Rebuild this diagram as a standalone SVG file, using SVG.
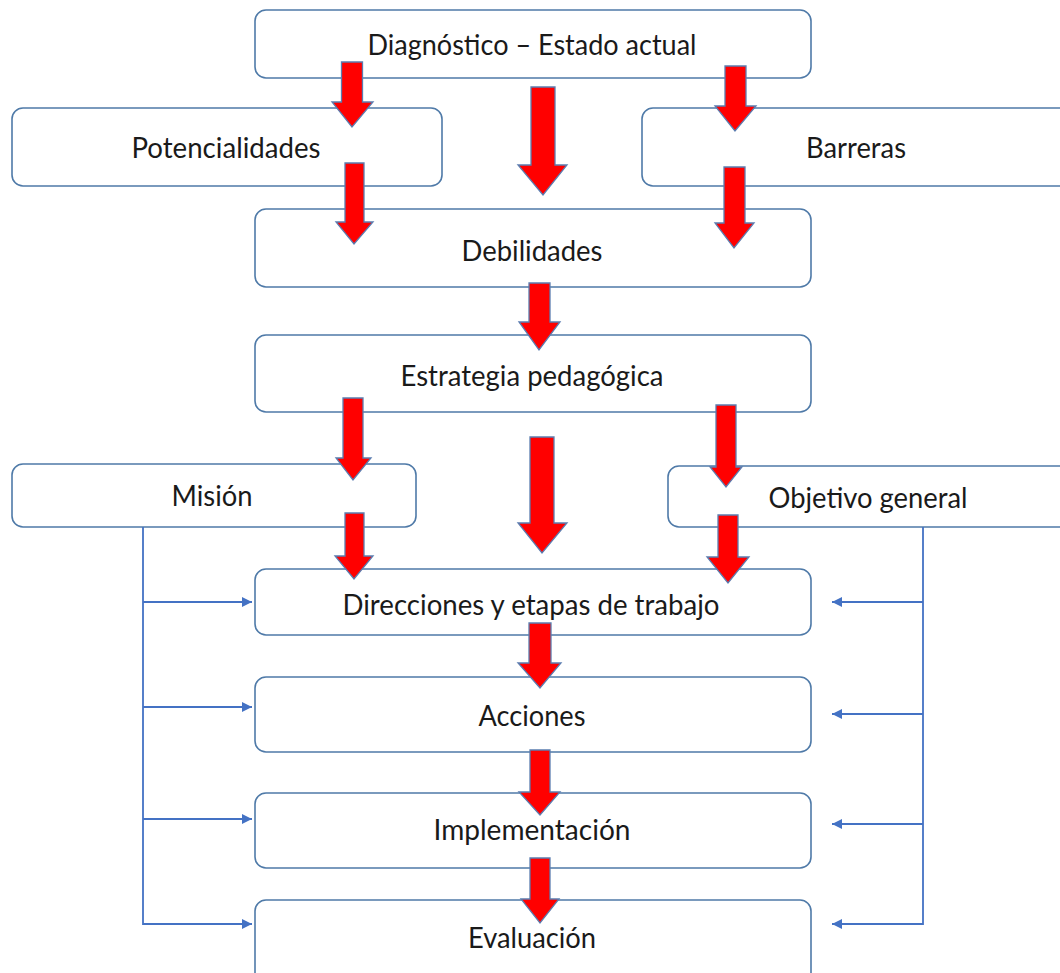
<svg xmlns="http://www.w3.org/2000/svg" width="1060" height="973" viewBox="0 0 1060 973">
<defs>
<style>
.box{fill:#ffffff;stroke:#4f7aa8;stroke-width:1.6}
.lbl{font-family:Lato,"Open Sans","Liberation Sans",sans-serif;font-size:28.5px;fill:#1a1a1a;text-anchor:middle}
.red{fill:#ff0000;stroke:#5b7db0;stroke-width:1.3;stroke-linejoin:miter}
.con{fill:none;stroke:#4472c4;stroke-width:1.8}
</style>
<marker id="ah" viewBox="0 0 10 10" refX="10" refY="5" markerWidth="10" markerHeight="10" markerUnits="userSpaceOnUse" orient="auto">
<path d="M0,0 L10,5 L0,10 z" fill="#4472c4"/>
</marker>
</defs>
<rect width="1060" height="973" fill="#ffffff"/>

<g id="n-diagnostico"><rect class="box" x="255" y="10" width="556" height="68" rx="11"/><text class="lbl" x="532" y="55" textLength="329" lengthAdjust="spacingAndGlyphs">Diagnóstico – Estado actual</text></g>
<g id="n-potencialidades"><rect class="box" x="12" y="108" width="430" height="78" rx="11"/><text class="lbl" x="226" y="158" textLength="189" lengthAdjust="spacingAndGlyphs">Potencialidades</text></g>
<g id="n-barreras"><rect class="box" x="642" y="108" width="440" height="78" rx="11"/><text class="lbl" x="856" y="158" textLength="100" lengthAdjust="spacingAndGlyphs">Barreras</text></g>
<g id="n-debilidades"><rect class="box" x="255" y="209" width="556" height="78" rx="11"/><text class="lbl" x="532" y="261" textLength="141" lengthAdjust="spacingAndGlyphs">Debilidades</text></g>
<g id="n-estrategia"><rect class="box" x="255" y="335" width="556" height="77" rx="11"/><text class="lbl" x="532" y="386" textLength="263" lengthAdjust="spacingAndGlyphs">Estrategia pedagógica</text></g>
<g id="n-mision"><rect class="box" x="12" y="464" width="404" height="63" rx="11"/><text class="lbl" x="212" y="506" textLength="81" lengthAdjust="spacingAndGlyphs">Misión</text></g>
<g id="n-objetivo"><rect class="box" x="668" y="466" width="414" height="61" rx="11"/><text class="lbl" x="868" y="508" textLength="199" lengthAdjust="spacingAndGlyphs">Objetivo general</text></g>
<g id="n-direcciones"><rect class="box" x="255" y="569" width="556" height="66" rx="11"/><text class="lbl" x="531" y="615" textLength="377" lengthAdjust="spacingAndGlyphs">Direcciones y etapas de trabajo</text></g>
<g id="n-acciones"><rect class="box" x="255" y="677" width="556" height="75" rx="11"/><text class="lbl" x="532" y="726" textLength="107" lengthAdjust="spacingAndGlyphs">Acciones</text></g>
<g id="n-implementacion"><rect class="box" x="255" y="793" width="556" height="75" rx="11"/><text class="lbl" x="532" y="840" textLength="197" lengthAdjust="spacingAndGlyphs">Implementación</text></g>
<g id="n-evaluacion"><rect class="box" x="255" y="900" width="556" height="85" rx="11"/><text class="lbl" x="532" y="948" textLength="128" lengthAdjust="spacingAndGlyphs">Evaluación</text></g>

<g id="connectors">
<g id="red-arrows">
<polygon class="red" points="341.5,62 362.5,62 362.5,102 373,102 352,127 332,102 341.5,102"/>
<polygon class="red" points="531,87 555,87 555,165 567,165 543,195 518,165 531,165"/>
<polygon class="red" points="725,66 746,66 746,106 756,106 735,131 715,106 725,106"/>
<polygon class="red" points="345,163 364,163 364,222 373,222 354,244 336,222 345,222"/>
<polygon class="red" points="724,167 745,167 745,223 754,223 734,248 715,223 724,223"/>
<polygon class="red" points="529,283 550,283 550,322 560,322 539,350 519,322 529,322"/>
<polygon class="red" points="343,398 363,398 363,458 371,458 353,480 336,458 343,458"/>
<polygon class="red" points="530,437 554,437 554,523 567,523 542,553 518,523 530,523"/>
<polygon class="red" points="716,405 736,405 736,467 742,467 726,487 710,467 716,467"/>
<polygon class="red" points="345,513 364,513 364,556 373,556 354,579 335,556 345,556"/>
<polygon class="red" points="718,515 738,515 738,557 749,557 728,583 707,557 718,557"/>
<polygon class="red" points="529,623 551,623 551,663 561,663 540,688 518,663 529,663"/>
<polygon class="red" points="530,750 550,750 550,792 560,792 540,815 519,792 530,792"/>
<polygon class="red" points="530,858 550,858 550,899 559,899 540,923 521,899 530,899"/>
</g>
<g id="blue-connectors">
<path class="con" d="M143,527 V924 H252" marker-end="url(#ah)"/>
<path class="con" d="M143,602 H252" marker-end="url(#ah)"/>
<path class="con" d="M143,707 H252" marker-end="url(#ah)"/>
<path class="con" d="M143,819 H252" marker-end="url(#ah)"/>
<path class="con" d="M923,527 V924 H832" marker-end="url(#ah)"/>
<path class="con" d="M923,602 H832" marker-end="url(#ah)"/>
<path class="con" d="M923,714 H832" marker-end="url(#ah)"/>
<path class="con" d="M923,824 H832" marker-end="url(#ah)"/>
</g>
</g>
</svg>
